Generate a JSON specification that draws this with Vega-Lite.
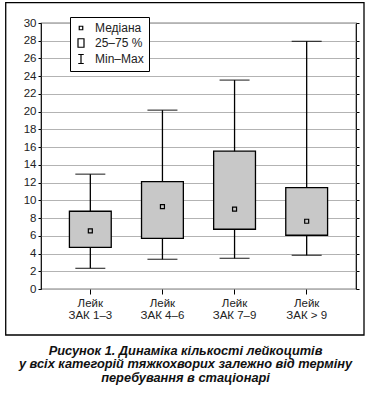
{
  "$schema": "https://vega.github.io/schema/vega-lite/v6.json",
  "width": 315,
  "height": 266,
  "autosize": {"type": "none"},
  "padding": {"left": 41, "top": 23, "right": 13, "bottom": 107},
  "background": "white",
  "config": {
    "font": "Liberation Sans",
    "view": {"stroke": "black", "strokeWidth": 1.2},
    "axis": {"labelFont": "Liberation Sans", "labelFontSize": 11.5, "labelColor": "#222", "tickColor": "black", "domain": false}
  },
  "title": {
    "text": ["Рисунок 1.  Динаміка кількості лейкоцитів", "у всіх категорій тяжкохворих залежно від терміну", "перебування в стаціонарі"],
    "orient": "bottom",
    "anchor": "middle",
    "frame": "group",
    "dx": -13,
    "font": "Liberation Sans",
    "fontSize": 12.8,
    "fontStyle": "italic",
    "fontWeight": "bold",
    "color": "#111",
    "lineHeight": 13.6,
    "offset": 9
  },
  "data": {"values": [
    {"g": "Лейк ЗАК 1–3", "min": 2.33, "q1": 4.7, "med": 6.55, "q3": 8.77, "max": 12.95},
    {"g": "Лейк ЗАК 4–6", "min": 3.35, "q1": 5.72, "med": 9.3, "q3": 12.12, "max": 20.17},
    {"g": "Лейк ЗАК 7–9", "min": 3.46, "q1": 6.74, "med": 9.0, "q3": 15.54, "max": 23.56},
    {"g": "Лейк ЗАК > 9", "min": 3.8, "q1": 6.06, "med": 7.64, "q3": 11.44, "max": 27.93}
  ]},
  "layer": [
    {
      "data": {"values": [{}]},
      "mark": {"type": "rect", "fillOpacity": 0, "stroke": "black", "strokeWidth": 1.3, "clip": false},
      "encoding": {
        "x": {"datum": -0.112, "type": "quantitative", "scale": {"domain": [0, 1], "nice": false, "zero": false}, "axis": null},
        "x2": {"datum": 1.0254},
        "y": {"datum": 1.0763, "type": "quantitative", "scale": {"domain": [0, 1], "nice": false, "zero": false}, "axis": null},
        "y2": {"datum": -0.173}
      }
    },
    {
      "encoding": {
        "x": {
          "field": "g", "type": "nominal", "sort": null,
          "scale": {"paddingInner": 0.42, "paddingOuter": 0.394},
          "axis": {"title": null, "labelAngle": 0, "tickSize": 5, "labelPadding": 3, "labelLineHeight": 12, "labelExpr": "[slice(datum.label, 0, 4), slice(datum.label, 5)]"}
        }
      },
      "layer": [
        {
          "mark": {"type": "rule", "stroke": "black", "strokeWidth": 1.3},
          "encoding": {
            "y": {"field": "min", "type": "quantitative", "scale": {"domain": [0, 30], "nice": false}, "axis": {"title": null, "orient": "left", "values": [0,2,4,6,8,10,12,14,16,18,20,22,24,26,28,30], "tickSize": 3, "labelPadding": 2, "grid": true, "gridColor": "#b3b3b3", "gridWidth": 1}},
            "y2": {"field": "max"}
          }
        },
        {
          "mark": {"type": "tick", "color": "black", "thickness": 1.3, "size": 30},
          "encoding": {
            "y": {"field": "min", "type": "quantitative", "axis": {"title": null, "orient": "right", "values": [0,2,4,6,8,10,12,14,16,18,20,22,24,26,28,30], "tickSize": 3, "labels": false, "grid": false}}
          }
        },
        {
          "mark": {"type": "tick", "color": "black", "thickness": 1.3, "size": 30},
          "encoding": {"y": {"field": "max", "type": "quantitative", "axis": null}}
        },
        {
          "mark": {"type": "bar", "fill": "#c8c8c8", "stroke": "black", "strokeWidth": 1.3},
          "encoding": {
            "y": {"field": "q1", "type": "quantitative", "axis": null},
            "y2": {"field": "q3"}
          }
        },
        {
          "mark": {"type": "point", "filled": false, "stroke": "black", "strokeWidth": 1.2, "size": 130, "opacity": 1},
          "encoding": {
            "y": {"field": "med", "type": "quantitative", "axis": null},
            "shape": {
              "datum": "Медіана",
              "scale": {
                "domain": ["Медіана", "25–75 %", "Min–Max"],
                "range": ["M-0.35,-0.35H0.35V0.35H-0.35Z", "M-0.6,-0.85H0.6V0.85H-0.6Z", "M-0.55,-0.9H0.55M0,-0.9V0.9M-0.55,0.9H0.55"]
              },
              "legend": {
                "title": null,
                "orient": "none",
                "legendX": 29,
                "legendY": -6,
                "padding": 5,
                "rowPadding": 2,
                "labelOffset": 8,
                "labelFont": "Liberation Sans",
                "labelFontSize": 12,
                "labelColor": "#222",
                "symbolSize": 100,
                "symbolStrokeColor": "black",
                "symbolStrokeWidth": 1.2,
                "strokeColor": "black",
                "fillColor": "white",
                "encode": {
                  "legend": {"update": {"strokeWidth": {"value": 1.2}}}
                }
              }
            }
          }
        }
      ],
      "resolve": {"axis": {"y": "independent"}}
    }
  ],
  "resolve": {"scale": {"x": "independent", "y": "independent"}}
}
